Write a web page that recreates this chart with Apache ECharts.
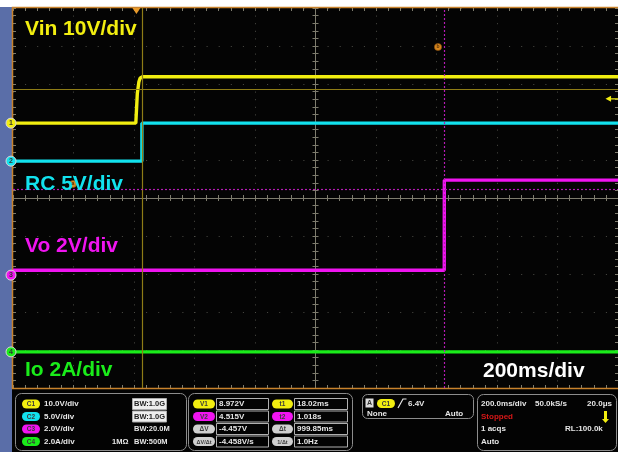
<!DOCTYPE html>
<html>
<head>
<meta charset="utf-8">
<script src="https://cdn.jsdelivr.net/npm/echarts@6/dist/echarts.min.js"></script>
<style>
  html, body { margin: 0; padding: 0; background: #ffffff; }
  #scope { width: 618px; height: 455px; }
</style>
</head>
<body>
<div id="scope"></div>
<script>
// Acquisition window, ms relative to the trigger (200 ms/div, 10 divisions)
const timeRange = [-408, 1592];

// Channel 1: input voltage (V)
const vinTime  = [-408, -2, 3, 8, 12, 20, 1592];
const vinVolts = [0, 0, 7.8, 10.8, 11.8, 12.2, 12.2];
// Channel 2: remote-control enable (V)
const rcTime  = [-408, 18, 18.1, 1592];
const rcVolts = [0, 0, 5.0, 5.0];
// Channel 3: output voltage (V)
const voTime  = [-408, 1017.6, 1017.7, 1017.9, 1592];
const voVolts = [0.26, 0.26, 2.9, 5.0, 5.0];
// Channel 4: output current (A)
const ioTime = [-408, 1592];
const ioAmps = [0, 0];

// Vertical setup per channel: units per division and ground position (divisions above centre)
const channelLabels = ['Vin 10V/div', 'RC 5V/div', 'Vo 2V/div', 'Io 2A/div'];
const channelScale  = [10, 5, 2, 2];
const channelUnit   = ['V', 'V', 'V', 'A'];
const channelOffset = [1.97, 0.97, -2.03, -4.05];
const channelColor  = ['#f2ee10', '#12e2ee', '#f014f0', '#1aec1a'];
const channelBW     = ['1.0G', '1.0G', '20.0M', '500M'];

// Cursors: a on C1, b on C3
const cursorT = [18.02, 1017.87];   // ms
const cursorV = [8.972, 4.515];     // V
const triggerTime = 0;
const triggerLevel = 6.4;           // V on C1

// Acquisition status
const timebaseText = '200.0ms/div';
const sampleRateText = '50.0kS/s';
const delayText = '20.0\u03bcs';
const recordText = 'RL:100.0k';

const FONT = '"Liberation Sans", Arial, Helvetica, sans-serif';
const CURSOR_A = '#8e7c16';
const CURSOR_B = '#b41cb4';
const GRID_DOT = '#4c4c46';
const GRID_LINE = '#7e7c6e';

const pairs = (t, v) => t.map((x, i) => [x, v[i]]);
const traces = [pairs(vinTime, vinVolts), pairs(rcTime, rcVolts), pairs(voTime, voVolts), pairs(ioTime, ioAmps)];

// One hidden value axis per channel so each trace uses its own V/div and ground level
const channelAxes = channelScale.map((s, i) => ({
  type: 'value', show: false,
  min: -(5 + channelOffset[i]) * s,
  max: (5 - channelOffset[i]) * s
}));

// Graticule axes (in divisions): centre cross with ticks, dotted grid, border ticks
const GY = 4;   // index of graticule y axis
const GX = 1;   // index of graticule x axis
const tickStyle = { color: GRID_LINE, width: 1 };
function divAxis(extra) {
  return Object.assign({
    type: 'value', min: -5, max: 5, interval: 1,
    axisLabel: { show: false },
    splitLine: { show: false },
    axisLine: { show: false, onZero: false },
    axisTick: { show: true, inside: true, length: 3, lineStyle: tickStyle },
    minorTick: { show: true, splitNumber: 5, length: 3, lineStyle: tickStyle },
    silent: true
  }, extra);
}

const xAxes = [
  { type: 'value', show: false, min: timeRange[0], max: timeRange[1] },
  divAxis({ position: 'bottom',
    axisLine: { show: true, onZero: true, onZeroAxisIndex: GY, lineStyle: { color: GRID_LINE, width: 1 } },
    splitLine: { show: true, lineStyle: { color: GRID_DOT, width: 1, type: [1, 6.6] } } }),
  divAxis({ position: 'bottom', axisLine: { show: false, onZero: true, onZeroAxisIndex: GY },
    axisTick: { show: true, inside: false, length: 3, lineStyle: tickStyle } }),
  divAxis({ position: 'top' }),
  divAxis({ position: 'bottom' })
];
const yAxes = channelAxes.concat([
  divAxis({ position: 'left',
    axisLine: { show: true, onZero: true, onZeroAxisIndex: GX, lineStyle: { color: GRID_LINE, width: 1 } },
    splitLine: { show: true, lineStyle: { color: GRID_DOT, width: 1, type: [1, 11.1] } } }),
  divAxis({ position: 'left', axisLine: { show: false, onZero: true, onZeroAxisIndex: GX },
    axisTick: { show: true, inside: false, length: 3, lineStyle: tickStyle } }),
  divAxis({ position: 'left' }),
  divAxis({ position: 'right' })
]);

function groundMarker(i) {
  return {
    coord: [timeRange[0], 0],
    symbol: 'circle', symbolSize: 10, symbolOffset: [-2, 0],
    itemStyle: { color: channelColor[i], borderColor: '#d8d8d8', borderWidth: 1 },
    label: { show: true, position: 'inside', formatter: String(i + 1), color: '#333', fontSize: 7, fontFamily: FONT, fontWeight: 'bold' }
  };
}

const series = traces.map((data, i) => ({
  type: 'line',
  xAxisIndex: 0,
  yAxisIndex: i,
  data: data,
  showSymbol: false,
  symbol: 'none',
  lineStyle: { color: channelColor[i], width: 3.4 },
  z: 3,
  markPoint: { silent: true, z: 12, data: [groundMarker(i)] }
}));

// Cursor a (C1) and trigger indicators
series[0].markLine = {
  silent: true, symbol: ['none', 'none'], label: { show: false },
  lineStyle: { color: CURSOR_A, width: 1.2, type: 'solid' },
  data: [{ xAxis: cursorT[0] }, { yAxis: cursorV[0] }]
};
series[0].markPoint.data.push(
  { coord: [triggerTime, channelAxes[0].max], symbol: 'triangle', symbolRotate: 180, symbolSize: [8, 6], symbolOffset: [0, 3],
    itemStyle: { color: '#e89a2a' }, label: { show: false } },
  { coord: [timeRange[1], triggerLevel], symbol: 'path://M0,5 L6,0 L6,10 Z M6,4 L14,4 L14,6 L6,6 Z', symbolSize: [13, 6], symbolOffset: [-6, 0],
    itemStyle: { color: channelColor[0] }, label: { show: false } }
);
// Cursor b (C3)
series[2].markLine = {
  silent: true, symbol: ['none', 'none'], label: { show: false },
  lineStyle: { color: CURSOR_B, width: 1.2, type: [2, 2] },
  data: [{ xAxis: cursorT[1] }, { yAxis: cursorV[1] }]
};

// ---- Decoration and readout panel ----
function txt(x, y, s, opts) {
  opts = opts || {};
  return { type: 'text', x: x, y: y, z: 30, silent: true,
    style: { text: s, fill: opts.color || '#e6e6e6',
      font: 'bold ' + (opts.size || 8) + 'px ' + FONT,
      align: opts.align || 'left', textAlign: opts.align || 'left',
      verticalAlign: 'middle', textVerticalAlign: 'middle' } };
}
function box(x, y, w, h, r, stroke, fill) {
  return { type: 'rect', z: 25, silent: true, shape: { x: x, y: y, width: w, height: h, r: r },
    style: { stroke: stroke, fill: fill || 'none', lineWidth: 1 } };
}
function pill(x, yc, w, color, label, size) {
  return [
    { type: 'rect', z: 26, silent: true, shape: { x: x, y: yc - 4.5, width: w, height: 9, r: 4.5 }, style: { fill: color } },
    txt(x + w / 2, yc + 0.5, label, { color: '#3a3a3a', size: size || 6.5, align: 'center' })
  ];
}

const rows = [404, 416.5, 429, 441.5];
const gfx = [];
// frame surroundings (kept below the channel ground markers)
gfx.push({ type: 'rect', z: 1, silent: true, shape: { x: 0, y: 7, width: 12, height: 445 }, style: { fill: '#5a6ea8' } });
gfx.push({ type: 'rect', z: 1, silent: true, shape: { x: 12, y: 389, width: 606, height: 63 }, style: { fill: '#030303' } });
gfx.push({ type: 'polyline', z: 2, silent: true, shape: { points: [[618, 7.5], [12.5, 7.5], [12.5, 388.5], [618, 388.5]] },
  style: { stroke: '#c8822c', lineWidth: 1.5, fill: 'none' } });

// trace labels
const labelPos = [[25, 29], [25, 184], [25, 246], [25, 370]];
channelLabels.forEach((s, i) => gfx.push(txt(labelPos[i][0], labelPos[i][1], s, { color: channelColor[i], size: 21 })));
gfx.push(txt(483, 371, '200ms/div', { color: '#ffffff', size: 21 }));

// cursor readout anchors
[[73, 184, 'a'], [438, 47, 'b']].forEach(function (p) {
  gfx.push({ type: 'circle', z: 28, silent: true, shape: { cx: p[0], cy: p[1], r: 3.6 }, style: { fill: '#d6861e', stroke: '#8a5010', lineWidth: 0.6 } });
  gfx.push(txt(p[0], p[1], p[2], { color: '#5a3208', size: 5, align: 'center' }));
});

// channel settings box
gfx.push(box(15.5, 393.5, 171, 57, 6, '#8c8c8c'));
rows.forEach(function (yc, i) {
  gfx.push.apply(gfx, pill(22, yc, 18, channelColor[i], 'C' + (i + 1)));
  gfx.push(txt(44, yc, channelScale[i].toFixed(1) + channelUnit[i] + '/div'));
  if (i < 2) {
    gfx.push(box(132.5, yc - 5.5, 34, 11, 0, '#aaaaaa', '#eeeeee'));
    gfx.push(txt(134, yc, 'BW:' + channelBW[i], { color: '#222222', size: 7.5 }));
  } else {
    gfx.push(txt(134, yc, 'BW:' + channelBW[i], { size: 7.5 }));
  }
});
gfx.push(txt(112, rows[3], '1M\u03a9', { size: 7.5 }));

// cursor readouts box
const dV = cursorV[1] - cursorV[0];
const dT = cursorT[1] - cursorT[0];
const vLabels = ['V1', 'V2', '\u0394V', '\u0394V/\u0394t'];
const vValues = [cursorV[0].toFixed(3) + 'V', cursorV[1].toFixed(3) + 'V', dV.toFixed(3) + 'V', (dV / (dT / 1000)).toFixed(3) + 'V/s'];
const tLabels = ['t1', 't2', '\u0394t', '1/\u0394t'];
const tValues = [cursorT[0].toFixed(2) + 'ms', (cursorT[1] / 1000).toFixed(3) + 's', dT.toFixed(2) + 'ms', (1000 / dT).toFixed(1) + 'Hz'];
const pillColors = [channelColor[0], channelColor[2], '#cfcfcf', '#cfcfcf'];
gfx.push(box(188.5, 393.5, 164, 57, 6, '#8c8c8c'));
rows.forEach(function (yc, i) {
  gfx.push.apply(gfx, pill(193, yc, 22, pillColors[i], vLabels[i], i === 3 ? 5.5 : 6.5));
  gfx.push(box(216.5, yc - 5.5, 52, 11, 0, '#b0b0b0'));
  gfx.push(txt(219, yc, vValues[i]));
  gfx.push.apply(gfx, pill(272, yc, 21, pillColors[i], tLabels[i], i === 3 ? 5.5 : 6.5));
  gfx.push(box(294.5, yc - 5.5, 53, 11, 0, '#b0b0b0'));
  gfx.push(txt(297, yc, tValues[i]));
});

// trigger box
gfx.push(box(362.5, 394.5, 111, 24, 5, '#8c8c8c'));
gfx.push({ type: 'rect', z: 26, silent: true, shape: { x: 365.5, y: 398.5, width: 8, height: 9 }, style: { fill: '#dddddd' } });
gfx.push(txt(369.5, 403.5, 'A', { color: '#333', size: 7, align: 'center' }));
gfx.push.apply(gfx, pill(377, 403.5, 18, channelColor[0], 'C1'));
gfx.push({ type: 'polyline', z: 27, silent: true, shape: { points: [[398, 408], [403, 399], [406.5, 399]] }, style: { stroke: '#e6e6e6', lineWidth: 1.2, fill: 'none' } });
gfx.push(txt(408, 403.5, triggerLevel.toFixed(1) + 'V'));
gfx.push(txt(367, 413.5, 'None'));
gfx.push(txt(445, 413.5, 'Auto'));

// acquisition box
gfx.push(box(477.5, 394.5, 139, 56, 6, '#8c8c8c'));
gfx.push(txt(481, rows[0], timebaseText));
gfx.push(txt(535, rows[0], sampleRateText));
gfx.push(txt(612, rows[0], delayText, { align: 'right' }));
gfx.push(txt(481, rows[1], 'Stopped', { color: '#d81818' }));
gfx.push({ type: 'rect', z: 26, silent: true, shape: { x: 604, y: 411, width: 3, height: 9 }, style: { fill: channelColor[0] } });
gfx.push({ type: 'polygon', z: 26, silent: true, shape: { points: [[602, 419], [609, 419], [605.5, 423]] }, style: { fill: channelColor[0] } });
gfx.push(txt(481, rows[2], '1 acqs'));
gfx.push(txt(565, rows[2], recordText));
gfx.push(txt(481, rows[3], 'Auto'));

const chart = echarts.init(document.getElementById('scope'), null, { renderer: 'canvas' });
chart.setOption({
  animation: false,
  backgroundColor: '#ffffff',
  grid: { left: 13, top: 8, width: 605, height: 380, show: true, backgroundColor: '#040404', borderWidth: 0 },
  xAxis: xAxes,
  yAxis: yAxes,
  series: series,
  graphic: { elements: gfx }
});
</script>
</body>
</html>
